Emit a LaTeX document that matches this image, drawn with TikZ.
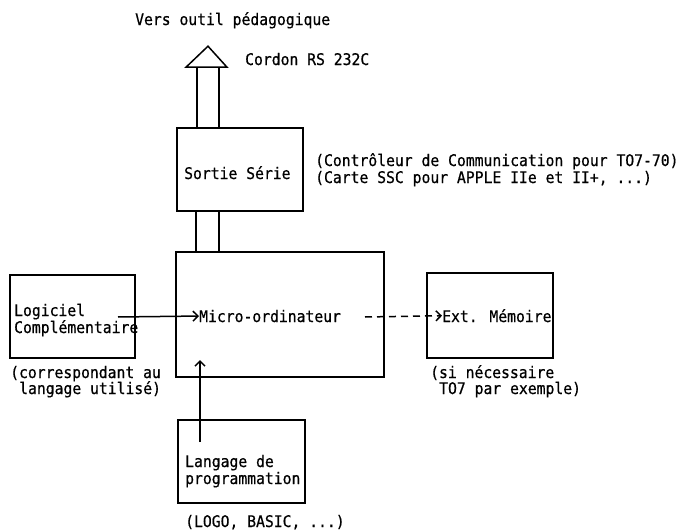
\documentclass[tikz,border=0pt]{standalone}
\usepackage{fontspec}
\newfontfamily\tw{DejaVu Sans Mono}[FakeStretch=0.92,FakeBold=0.6]
\usetikzlibrary{arrows.meta}
\begin{document}
\begin{tikzpicture}[x=1pt,y=-1pt,
  box/.style={draw, line width=1.6pt, inner sep=0pt},
  txt/.style={font=\tw\fontsize{16}{17}\selectfont, inner sep=0pt, anchor=base west},
  ln/.style={line width=1.5pt},
  arr/.style={ln, -{Straight Barb[length=5pt,width=10pt,line width=1.5pt]}}]
\useasboundingbox (0,0) rectangle (678,530);

% boxes
\node[box, minimum width=126pt, minimum height=83pt] (sortie) at (240,169.5) {};
\node[box, minimum width=208pt, minimum height=125pt] (micro) at (280,314.5) {};
\node[box, minimum width=125pt, minimum height=83pt] (logiciel) at (72.5,316.5) {};
\node[box, minimum width=127pt, minimum height=83pt] (langage) at (241.5,461.5) {};
\node[box, minimum width=126pt, minimum height=85pt] (ext) at (490,315.5) {};

% texts
\node[txt] (title) at (135,25) {Vers outil pédagogique};
\node[txt] (cordon) at (245,65) {Cordon RS 232C};
\node[txt] (sortietxt) at (184,179) {Sortie Série};
\node[txt] (contr) at (315,166) {(Contrôleur de Communication pour TO7-70)};
\node[txt] (carte) at (315,183) {(Carte SSC pour APPLE IIe et II+, ...)};
\node[txt] (microtxt) at (199,322) {Micro-ordinateur};
\node[txt] (log1) at (14,316) {Logiciel};
\node[txt] (log2) at (14,333) {Complémentaire};
\node[txt] (corr1) at (10,378) {(correspondant au};
\node[txt] (corr2) at (19,394) {langage utilisé)};
\node[txt] (exttxt) at (442,322) {Ext. Mémoire};
\node[txt] (si1) at (430,378) {(si nécessaire};
\node[txt] (si2) at (439,394) {TO7 par exemple)};
\node[txt] (lang1) at (185,467) {Langage de};
\node[txt] (lang2) at (185,484) {programmation};
\node[txt] (logo) at (185,527) {(LOGO, BASIC, ...)};

% output arrow (cable)
\coordinate (apex) at ([xshift=-32pt,yshift=81pt]sortie.north);
\coordinate (bl) at ([xshift=-54pt,yshift=60pt]sortie.north);
\coordinate (br) at ([xshift=-13pt,yshift=60pt]sortie.north);
\coordinate (sl) at ([xshift=-43pt,yshift=60pt]sortie.north);
\coordinate (sr) at ([xshift=-21pt,yshift=60pt]sortie.north);
\draw[ln, line join=miter] (bl) -- (apex) -- (br) -- cycle;
\draw[ln] (sl) -- (sl |- sortie.north);
\draw[ln] (sr) -- (sr |- sortie.north);

% link sortie - micro
\coordinate (ml) at ([xshift=-44pt]sortie.south);
\coordinate (mr) at ([xshift=-21pt]sortie.south);
\draw[ln] (ml) -- (ml |- micro.north);
\draw[ln] (mr) -- (mr |- micro.north);

% arrows
\coordinate (la) at (118,317);
\draw[arr] (la) -- (microtxt.west);
\coordinate (ua) at (200,442);
\coordinate (uat) at (200,360);
\draw[arr] (ua) -- (uat);
\coordinate (da) at (365,317);
\draw[arr, dash pattern=on 7pt off 5pt] (da) -- (exttxt.west);
\end{tikzpicture}
\end{document}
